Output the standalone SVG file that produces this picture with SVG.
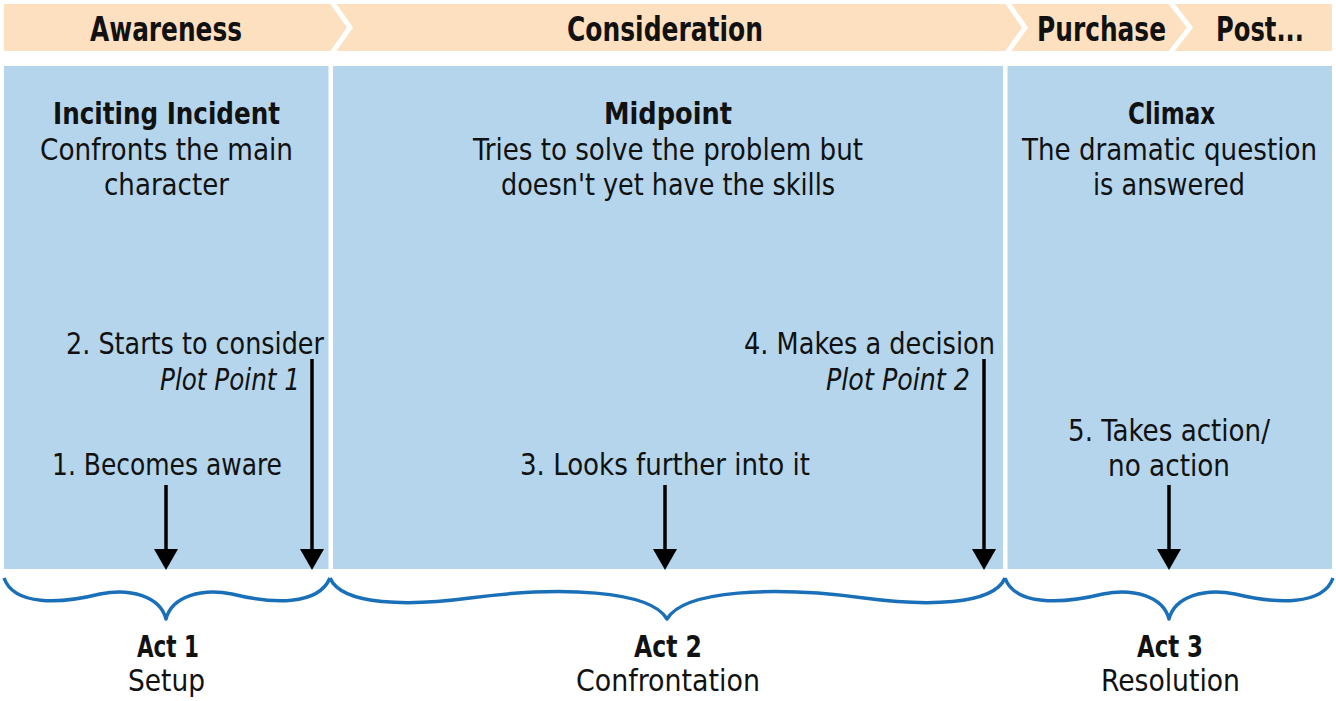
<svg xmlns="http://www.w3.org/2000/svg" width="1336" height="701" viewBox="0 0 1336 701">
<defs>
<style>
text{font-family:"DejaVu Sans Condensed","Liberation Sans",sans-serif;fill:#111;font-size:31px}
.c{text-anchor:middle}
.e{text-anchor:end}
.b{font-weight:bold}
.i{font-style:italic}
.ban{font-size:33px;font-weight:bold;text-anchor:middle}
.panel{fill:#b4d5eb}
.brace{fill:none;stroke:#1a70b8;stroke-width:3.5;stroke-linejoin:round}
.arr{stroke:#000;stroke-width:3.5;fill:none}
</style>
<marker id="ah" viewBox="0 0 21 24" refX="0" refY="12" markerWidth="21" markerHeight="24" markerUnits="userSpaceOnUse" orient="auto">
<path d="M0,0 L21,12 L0,24 Z" fill="#000"/>
</marker>
</defs>
<rect width="1336" height="701" fill="#fff"/>
<g id="banner">
<rect x="4" y="4" width="1328" height="47" fill="#fde0bf"/>
<polyline points="332,2 350,27.5 332,53" fill="none" stroke="#fff" stroke-width="5"/>
<polyline points="1007,2 1025,27.5 1007,53" fill="none" stroke="#fff" stroke-width="5"/>
<polyline points="1170,2 1190,27.5 1170,53" fill="none" stroke="#fff" stroke-width="5"/>
<text class="ban" x="166" y="41" textLength="152" lengthAdjust="spacingAndGlyphs">Awareness</text>
<text class="ban" x="665" y="41" textLength="196" lengthAdjust="spacingAndGlyphs">Consideration</text>
<text class="ban" x="1101.5" y="41" textLength="129" lengthAdjust="spacingAndGlyphs">Purchase</text>
<text class="ban" x="1260" y="41" textLength="88" lengthAdjust="spacingAndGlyphs">Post...</text>
</g>
<g id="act1">
<rect class="panel" x="4" y="66" width="324.5" height="503"/>
<text class="c b" x="166.5" y="124" textLength="227" lengthAdjust="spacingAndGlyphs">Inciting Incident</text>
<text class="c" x="166.5" y="160" textLength="253" lengthAdjust="spacingAndGlyphs">Confronts the main</text>
<text class="c" x="166.5" y="195" textLength="125" lengthAdjust="spacingAndGlyphs">character</text>
<text class="e" x="324" y="354" textLength="258" lengthAdjust="spacingAndGlyphs">2. Starts to consider</text>
<text class="e i" x="300" y="390" textLength="140" lengthAdjust="spacingAndGlyphs">Plot Point 1</text>
<text class="c" x="167" y="475" textLength="230" lengthAdjust="spacingAndGlyphs">1. Becomes aware</text>
<text class="c b" x="168" y="657" textLength="62" lengthAdjust="spacingAndGlyphs">Act 1</text>
<text class="c" x="166.5" y="691" textLength="77" lengthAdjust="spacingAndGlyphs">Setup</text>
</g>
<g id="act2">
<rect class="panel" x="333" y="66" width="670" height="503"/>
<text class="c b" x="668" y="124" textLength="128" lengthAdjust="spacingAndGlyphs">Midpoint</text>
<text class="c" x="668" y="160" textLength="390" lengthAdjust="spacingAndGlyphs">Tries to solve the problem but</text>
<text class="c" x="668" y="195" textLength="334" lengthAdjust="spacingAndGlyphs">doesn't yet have the skills</text>
<text class="e" x="995" y="354" textLength="251" lengthAdjust="spacingAndGlyphs">4. Makes a decision</text>
<text class="e i" x="970" y="390" textLength="144" lengthAdjust="spacingAndGlyphs">Plot Point 2</text>
<text class="c" x="665" y="475" textLength="290" lengthAdjust="spacingAndGlyphs">3. Looks further into it</text>
<text class="c b" x="668" y="657" textLength="68" lengthAdjust="spacingAndGlyphs">Act 2</text>
<text class="c" x="668" y="691" textLength="184" lengthAdjust="spacingAndGlyphs">Confrontation</text>
</g>
<g id="act3">
<rect class="panel" x="1007.5" y="66" width="324.5" height="503"/>
<text class="c b" x="1171.5" y="124" textLength="87" lengthAdjust="spacingAndGlyphs">Climax</text>
<text class="c" x="1169.5" y="160" textLength="295" lengthAdjust="spacingAndGlyphs">The dramatic question</text>
<text class="c" x="1169" y="195" textLength="152" lengthAdjust="spacingAndGlyphs">is answered</text>
<text class="c" x="1169" y="441" textLength="202" lengthAdjust="spacingAndGlyphs">5. Takes action/</text>
<text class="c" x="1169" y="476" textLength="122" lengthAdjust="spacingAndGlyphs">no action</text>
<text class="c b" x="1170" y="657" textLength="66" lengthAdjust="spacingAndGlyphs">Act 3</text>
<text class="c" x="1170.5" y="691" textLength="139" lengthAdjust="spacingAndGlyphs">Resolution</text>
</g>
<g id="connectors">
<line class="arr" x1="166" y1="485" x2="166" y2="549" marker-end="url(#ah)"/>
<line class="arr" x1="312" y1="359" x2="312" y2="549" marker-end="url(#ah)"/>
<line class="arr" x1="665" y1="485" x2="665" y2="549" marker-end="url(#ah)"/>
<line class="arr" x1="984" y1="359" x2="984" y2="549" marker-end="url(#ah)"/>
<line class="arr" x1="1169" y1="485" x2="1169" y2="549" marker-end="url(#ah)"/>
<path class="brace" d="M4,578 C14,606 60,604 100,594 C130,588 160,596 166,619 C172,596 202,588 232,594 C272,604 318,606 330,578"/>
<path class="brace" d="M330,578 C342,606 410,606 470,598 C560,586 650,590 667,619 C684,590 774,586 864,598 C924,606 993,606 1005,578"/>
<path class="brace" d="M1005,578 C1015,606 1062,604 1103,594 C1133,588 1163,596 1169,619 C1175,596 1205,588 1235,594 C1276,604 1323,606 1333,578"/>
</g>
</svg>
